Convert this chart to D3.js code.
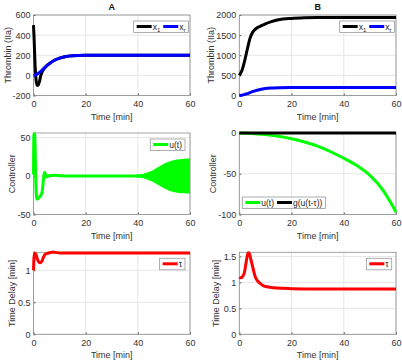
<!DOCTYPE html>
<html>
<head>
<meta charset="utf-8">
<script src="https://cdn.jsdelivr.net/npm/d3@7"></script>
<style>
  body { margin: 0; background: #fff; }
  text { font-family: "Liberation Sans", Arial, sans-serif; }
</style>
</head>
<body>
<svg id="chart" width="402" height="364"></svg>
<script>
// ---- data ----
var xTicks = [0, 20, 40, 60];

// panel A, thrombin
var x1ATime = [0, 0.3, 0.6, 1, 1.4, 1.8, 2.3, 2.8, 3.3, 4, 5, 6, 8, 10, 12, 15, 20, 25, 30, 40, 50, 60];
var x1AVal  = [500, 320, 100, -50, -100, -95, -60, 0, 35, 65, 95, 115, 150, 172, 186, 195, 199, 200, 200, 200, 200, 200];
var xrATime = [0, 1, 2, 3, 4, 5, 6, 8, 10, 12, 15, 20, 25, 30, 40, 50, 60];
var xrAVal  = [0, 8, 25, 45, 70, 95, 115, 150, 172, 186, 195, 199, 200, 200, 200, 200, 200];

// panel B, thrombin
var x1BTime = [0, 1, 2, 3, 4, 5, 6, 7, 8, 10, 12, 15, 20, 25, 30, 40, 50, 60];
var x1BVal  = [500, 620, 850, 1130, 1400, 1560, 1640, 1690, 1720, 1780, 1830, 1880, 1915, 1930, 1935, 1935, 1935, 1935];
var xrBTime = [0, 1, 2, 3, 4, 5, 6, 8, 10, 12, 15, 20, 25, 30, 40, 50, 60];
var xrBVal  = [0, 8, 25, 45, 70, 95, 115, 150, 172, 186, 195, 199, 200, 200, 200, 200, 200];

// panel A, controller
var uATime = [0, 0.15, 0.3, 0.45, 0.6, 0.9, 1.3, 1.8, 2.6, 3.3, 3.8, 4.2, 4.6, 5.1, 6, 8, 10, 15, 20, 30, 40, 50, 60];
var uAVal  = [2, 55, 5, 55, 40, -10, -30, -29, -26, -21, -5, 5, 2, -1, 0.5, 1, 0.5, 0, 0, 0, 0, 0, 0];
var uBandTime  = [34, 38, 40, 42, 44, 46, 48, 50, 52, 54, 56, 58, 60];
var uBandUpper = [0.5, 1, 2, 3, 5, 8, 12, 16, 19, 21, 22, 22.5, 23];
var uBandLower = [-0.5, -1, -2, -3, -5, -8, -12, -16, -19, -21, -22, -22.5, -23];

// panel B, controller
var uBTime = [0, 5, 10, 15, 20, 25, 30, 35, 40, 45, 50, 55, 57, 59, 60];
var uBVal  = [0, -0.5, -2, -4, -7, -11, -16, -23, -31, -40, -52, -70, -80, -91, -97];
var gBTime = [0, 60];
var gBVal  = [0, 0];

// time delay
var tauATime = [0, 0.2, 0.5, 1, 1.5, 2, 2.6, 3.2, 3.8, 4.5, 5.5, 7, 8, 10, 15, 20, 60];
var tauAVal  = [1.0, 1.2, 1.27, 1.24, 1.17, 1.13, 1.115, 1.14, 1.2, 1.25, 1.265, 1.28, 1.28, 1.27, 1.27, 1.27, 1.27];
var tauBTime = [0, 0.5, 1, 1.5, 2, 2.5, 3, 3.4, 3.8, 4.3, 4.8, 5.5, 6.1, 7, 8, 9, 10.6, 13, 17, 20, 30, 60];
var tauBVal  = [1.1, 1.09, 1.1, 1.13, 1.2, 1.35, 1.5, 1.57, 1.56, 1.47, 1.37, 1.22, 1.11, 1.03, 0.98, 0.94, 0.915, 0.895, 0.885, 0.88, 0.875, 0.875];

// ---- drawing ----
var svg = d3.select("#chart");

function zip(ts, vs) {
  return ts.map(function(t, i) { return [t, vs[i]]; });
}

function drawPanel(cfg) {
  var g = svg.append("g");
  var x = d3.scaleLinear().domain([0, 60]).range([cfg.left, cfg.right]);
  var y = d3.scaleLinear().domain(cfg.yDomain).range([cfg.bottom, cfg.top]);

  // grid
  g.selectAll(".gx").data(xTicks).enter().append("line")
    .attr("x1", function(d) { return x(d); }).attr("x2", function(d) { return x(d); })
    .attr("y1", cfg.top).attr("y2", cfg.bottom)
    .attr("stroke", "#e6e6e6").attr("stroke-width", 1);
  g.selectAll(".gy").data(cfg.yTicks).enter().append("line")
    .attr("x1", cfg.left).attr("x2", cfg.right)
    .attr("y1", function(d) { return y(d); }).attr("y2", function(d) { return y(d); })
    .attr("stroke", "#e6e6e6").attr("stroke-width", 1);

  // axes
  var fmt = function(d) { return String(d); };
  var xa = g.append("g").attr("transform", "translate(0," + cfg.bottom + ")")
    .call(d3.axisBottom(x).tickValues(xTicks).tickFormat(fmt).tickSizeInner(-2).tickSizeOuter(0).tickPadding(5));
  var ya = g.append("g").attr("transform", "translate(" + cfg.left + ",0)")
    .call(d3.axisLeft(y).tickValues(cfg.yTicks).tickFormat(fmt).tickSizeInner(-2).tickSizeOuter(0).tickPadding(3));
  [xa, ya].forEach(function(a) {
    a.select(".domain").remove();
    a.selectAll("line").attr("stroke", "#555");
    a.selectAll("text").attr("fill", "#333").style("font-size", "9px")
      .style("font-family", "'Liberation Sans', Arial, sans-serif");
  });

  // box
  g.append("rect").attr("x", cfg.left).attr("y", cfg.top)
    .attr("width", cfg.right - cfg.left).attr("height", cfg.bottom - cfg.top)
    .attr("fill", "none").attr("stroke", "#8c8c8c").attr("stroke-width", 0.8);

  // series
  var line = d3.line().x(function(d) { return x(d[0]); }).y(function(d) { return y(d[1]); })
    .curve(d3.curveMonotoneX);
  if (cfg.band) {
    var area = d3.area().x(function(d) { return x(d[0]); })
      .y0(function(d) { return y(d[1]); }).y1(function(d) { return y(d[2]); })
      .curve(d3.curveMonotoneX);
    var bd = cfg.band.time.map(function(t, i) { return [t, cfg.band.lower[i], cfg.band.upper[i]]; });
    g.append("path").datum(bd).attr("d", area).attr("fill", cfg.band.color);
  }
  cfg.series.forEach(function(s) {
    g.append("path").datum(zip(s.time, s.values)).attr("d", line)
      .attr("fill", "none").attr("stroke", s.color).attr("stroke-width", 3)
      .attr("stroke-linejoin", "round");
  });

  // labels
  if (cfg.title) {
    g.append("text").attr("x", (cfg.left + cfg.right) / 2).attr("y", 10)
      .attr("text-anchor", "middle").style("font-size", "9px").style("font-weight", "bold")
      .attr("fill", "#111").text(cfg.title);
  }
  g.append("text").attr("x", (cfg.left + cfg.right) / 2).attr("y", cfg.bottom + 24)
    .attr("text-anchor", "middle").style("font-size", "9px").attr("fill", "#333").text("Time [min]");
  g.append("text")
    .attr("transform", "translate(" + cfg.yLabelX + "," + ((cfg.top + cfg.bottom) / 2) + ") rotate(-90)")
    .attr("text-anchor", "middle").attr("dy", "0.35em").style("font-size", "9px").attr("fill", "#333")
    .text(cfg.yLabel);

  // legend
  var lg = g.append("g");
  var box = lg.append("rect").attr("fill", "#fff").attr("stroke", "#999").attr("stroke-width", 0.8);
  var cx = 3;
  cfg.series.forEach(function(s) {
    if (!s.legend) return;
    lg.append("line").attr("x1", cx).attr("x2", cx + 15).attr("y1", 5.5).attr("y2", 5.5)
      .attr("stroke", s.color).attr("stroke-width", 3);
    cx += 16;
    var t = lg.append("text").attr("x", cx).attr("y", 8.5).style("font-size", "8.5px").attr("fill", "#222");
    t.append("tspan").text(s.legend);
    if (s.sub) {
      t.append("tspan").attr("dy", 2.5).style("font-size", "6px").text(s.sub);
    }
    cx += t.node().getComputedTextLength() + 3;
  });
  var w = cx, h = 11.5;
  box.attr("width", w).attr("height", h);
  var lx = cfg.legendPos === "bl" ? cfg.left + 3 : cfg.right - cfg.legendRight - w;
  var ly = cfg.legendPos === "bl" ? cfg.bottom - 6 - h : cfg.top + 6;
  lg.attr("transform", "translate(" + lx + "," + ly + ")");
}

var L0 = 33.5, L1 = 190, R0 = 239.3, R1 = 396;
var rows = [[15, 95.5], [133, 214.5], [252.3, 334.3]];

drawPanel({ left: L0, right: L1, top: rows[0][0], bottom: rows[0][1], title: "A",
  yDomain: [-200, 600], yTicks: [-200, 0, 200, 400, 600], yLabel: "Thrombin (IIa)", yLabelX: 8,
  legendRight: 1.5,
  series: [
    { time: x1ATime, values: x1AVal, color: "#000", legend: "x", sub: "1" },
    { time: xrATime, values: xrAVal, color: "#0000ff", legend: "x", sub: "r" }
  ] });

drawPanel({ left: R0, right: R1, top: rows[0][0], bottom: rows[0][1], title: "B",
  yDomain: [0, 2000], yTicks: [0, 500, 1000, 1500, 2000], yLabel: "Thrombin (IIa)", yLabelX: 211,
  legendRight: 1.5,
  series: [
    { time: x1BTime, values: x1BVal, color: "#000", legend: "x", sub: "1" },
    { time: xrBTime, values: xrBVal, color: "#0000ff", legend: "x", sub: "r" }
  ] });

drawPanel({ left: L0, right: L1, top: rows[1][0], bottom: rows[1][1],
  yDomain: [-50, 56], yTicks: [-50, 0, 50], yLabel: "Controller", yLabelX: 12,
  legendRight: 5,
  band: { time: uBandTime, upper: uBandUpper, lower: uBandLower, color: "#00ff00" },
  series: [
    { time: uATime, values: uAVal, color: "#00ff00", legend: "u(t)" }
  ] });

drawPanel({ left: R0, right: R1, top: rows[1][0], bottom: rows[1][1],
  yDomain: [-100, 0], yTicks: [-100, -50, 0], yLabel: "Controller", yLabelX: 213,
  legendPos: "bl",
  series: [
    { time: uBTime, values: uBVal, color: "#00ff00", legend: "u(t)" },
    { time: gBTime, values: gBVal, color: "#000", legend: "g(u(t-τ))" }
  ] });

drawPanel({ left: L0, right: L1, top: rows[2][0], bottom: rows[2][1],
  yDomain: [0, 1.28], yTicks: [0, 0.5, 1], yLabel: "Time Delay [min]", yLabelX: 12,
  legendRight: 5,
  series: [
    { time: tauATime, values: tauAVal, color: "#ff0000", legend: "τ" }
  ] });

drawPanel({ left: R0, right: R1, top: rows[2][0], bottom: rows[2][1],
  yDomain: [0, 1.58], yTicks: [0, 0.5, 1, 1.5], yLabel: "Time Delay [min]", yLabelX: 216,
  legendRight: 4.3,
  series: [
    { time: tauBTime, values: tauBVal, color: "#ff0000", legend: "τ" }
  ] });
</script>
</body>
</html>
